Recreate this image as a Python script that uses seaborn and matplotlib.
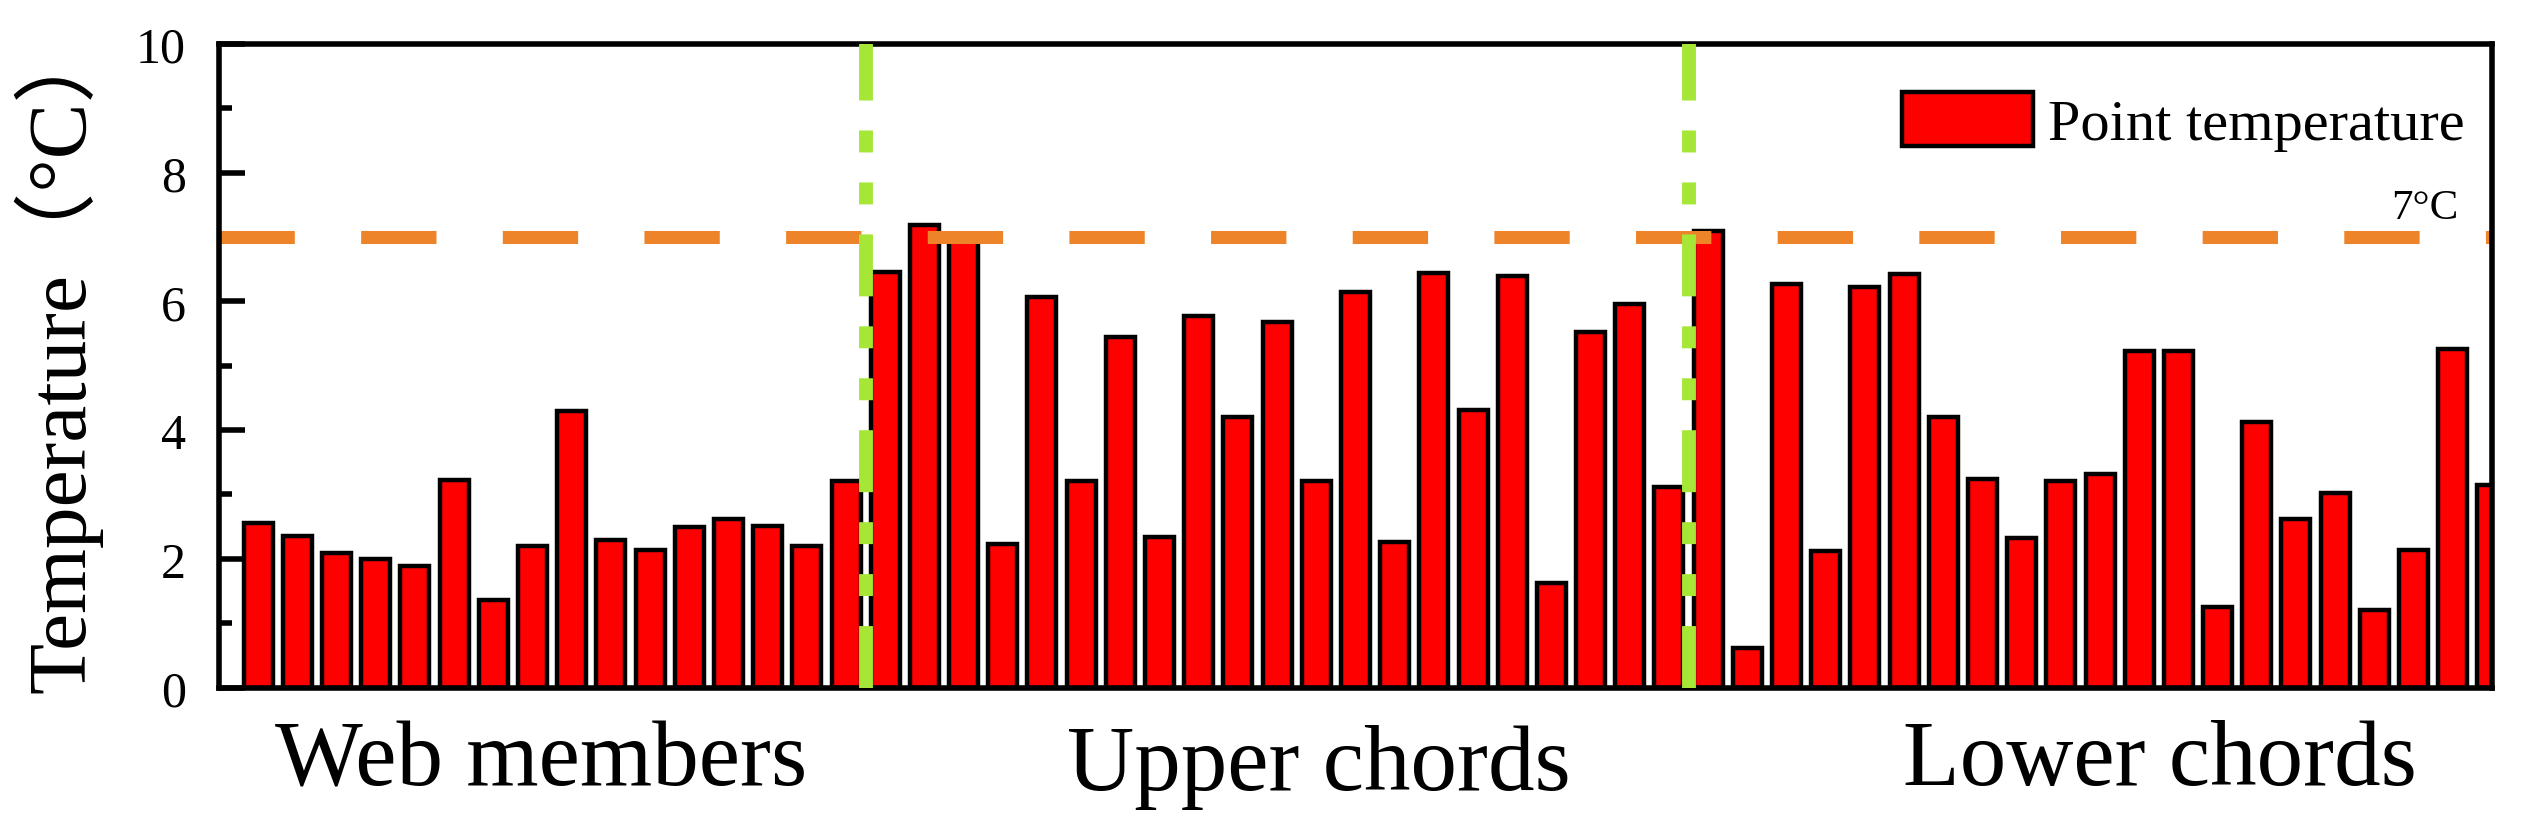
import numpy as np
import pandas as pd
import seaborn as sns
import matplotlib.pyplot as plt

# point temperatures, per member group
web_members = [2.56, 2.35, 2.09, 1.99, 1.89, 3.23, 1.36, 2.20, 4.30, 2.30,
               2.14, 2.50, 2.62, 2.51, 2.20, 3.21]
upper_chords = [6.46, 7.19, 7.00, 2.23, 6.07, 3.21, 5.44, 2.34, 5.78, 4.21,
                5.68, 3.21, 6.15, 2.26, 6.44, 4.31, 6.39, 1.63, 5.53, 5.96, 3.12]
lower_chords = [7.10, 0.61, 6.27, 2.12, 6.23, 6.43, 4.21, 3.24, 2.33, 3.21,
                3.32, 5.23, 5.23, 1.25, 4.13, 2.62, 3.02, 1.20, 2.13, 5.26, 3.14]
group_names = ["Web members", "Upper chords", "Lower chords"]
threshold = 7

vals = web_members + upper_chords + lower_chords
df = pd.DataFrame(dict(x=np.arange(1, len(vals) + 1), y=vals))

# group boundaries
b1 = len(web_members) + 0.5
b2 = len(web_members) + len(upper_chords) + 0.5

sns.set_style("ticks")
plt.rcParams['font.family'] = ['Liberation Serif', 'Noto Sans CJK SC']
for k in ['text.color', 'axes.labelcolor', 'xtick.color', 'ytick.color', 'axes.edgecolor']:
    plt.rcParams[k] = 'black'

fig = plt.figure(figsize=(25.26, 8.37), dpi=100)
ax = fig.add_axes([0.0867, 0.1774, 0.9865 - 0.0867, 0.9462 - 0.1774])

sns.barplot(data=df, x="x", y="y", native_scale=True, color="red", saturation=1,
            edgecolor="black", linewidth=3.2, width=0.74, ax=ax)

# 7 degree limit and group dividers
ax.axhline(threshold, color="#EE842A", lw=9.4, ls=(0, (5.77, 5.08)), zorder=2)
for b in [b1, b2]:
    ax.axvline(b, color="#A5E637", lw=10, ls=(0, (4.46, 2.16, 1.58, 2.16, 1.58, 2.16)),
               zorder=3)
ax.text(57.15, 7.3, "7°C", fontsize=31, ha="right", va="baseline")

ax.set_xlim(0, 58)
ax.set_ylim(0, 10)
ax.set_yticks([0, 2, 4, 6, 8, 10])
ax.set_yticks([1, 3, 5, 7, 9], minor=True)
ax.set_xticks([b1, b2])
ax.set_xticklabels([])
ax.tick_params(axis="both", which="major", direction="in", length=19, width=4,
               labelsize=36, pad=24)
ax.tick_params(axis="y", which="minor", direction="in", length=9.5, width=4)
for s in ax.spines.values():
    s.set_linewidth(4)
    s.set_visible(True)

ax.set_xlabel("")
ax.set_ylabel("Temperature（°C）", fontsize=60)
ylab = ax.yaxis.label
ylab.set_horizontalalignment("left")
ylab.set_verticalalignment("baseline")
ylab.set_rotation_mode("anchor")
ax.yaxis.set_label_coords(-0.059, -0.007)

# group names under the axis
centers = [8.22, 28.06, 49.54]
ys = [-0.150, -0.158, -0.150]
for name, cx, yy in zip(group_names, centers, ys):
    ax.text(cx, yy, name, fontsize=67, ha="center", va="baseline",
            transform=ax.get_xaxis_transform())

ax.legend([ax.patches[0]], ["Point temperature"], loc="upper right",
          bbox_to_anchor=(0.988, 0.925), frameon=False, fontsize=42,
          handlelength=2.25, handleheight=1.05, handletextpad=0.25,
          borderpad=0, borderaxespad=0)

plt.savefig("out.png", dpi=100)
